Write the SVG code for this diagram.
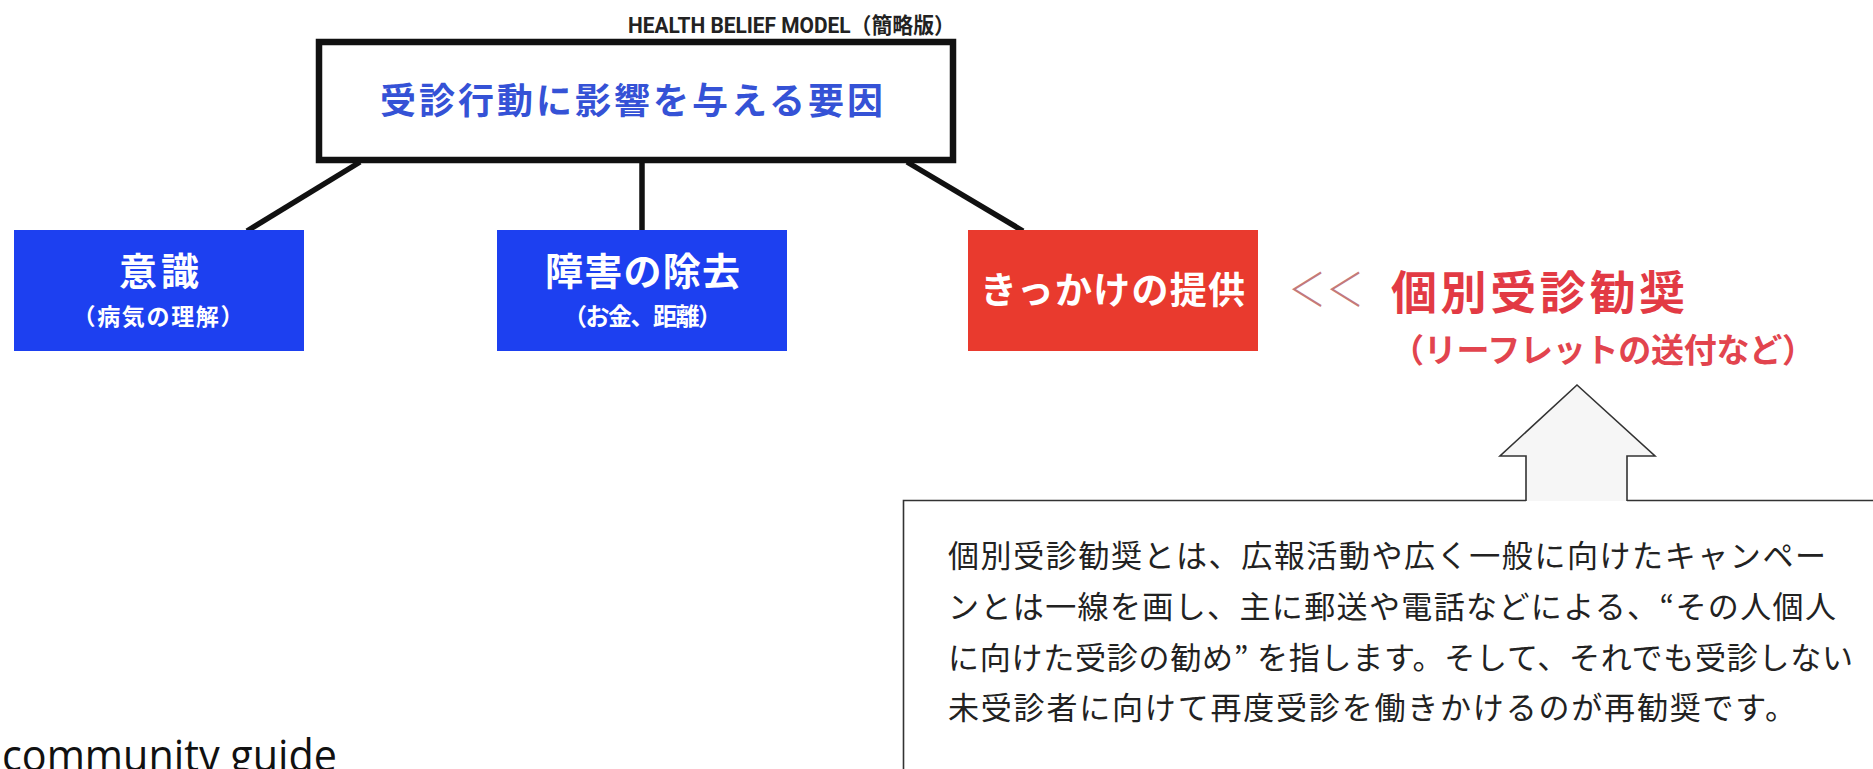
<svg xmlns="http://www.w3.org/2000/svg" width="1873" height="769" viewBox="0 0 1873 769">
  <style>
    .jp { font-family: "Noto Sans CJK JP", "Noto Sans", sans-serif; }
    .lbl { font-family: "Noto Sans CJK JP", "Noto Sans", sans-serif; font-weight: 700; fill: #ffffff; text-anchor: middle; }
    .body { font-family: "Noto Sans CJK JP", "Noto Sans", sans-serif; font-weight: 400; fill: #222222; font-size: 31px; }
    .conn { stroke: #111111; stroke-width: 5.5; fill: none; }
    .blue { fill: #1d40f0; }
    .red { fill: #e93a2e; }
  </style>
  <rect width="1873" height="769" fill="#ffffff"/>

  <g id="title">
    <text x="955" y="33" text-anchor="end" font-family="Roboto, 'Noto Sans CJK JP', sans-serif" font-weight="700" font-size="22" fill="#222222" textLength="327" lengthAdjust="spacingAndGlyphs">HEALTH BELIEF MODEL（簡略版）</text>
  </g>

  <g id="connectors">
    <line class="conn" x1="360" y1="162" x2="247" y2="231"/>
    <line class="conn" x1="642" y1="162" x2="642" y2="231"/>
    <line class="conn" x1="907" y1="162" x2="1023" y2="231"/>
  </g>

  <g id="node-root">
    <rect x="319" y="42" width="634" height="118" fill="#ffffff" stroke="#111111" stroke-width="6.5"/>
    <text class="jp" x="631.5" y="114" text-anchor="middle" font-size="36" font-weight="700" fill="#3552d6" textLength="503" lengthAdjust="spacing">受診行動に影響を与える要因</text>
  </g>

  <g id="node-ishiki">
    <rect class="blue" x="14" y="230" width="290" height="121"/>
    <text class="lbl" x="159" y="285" font-size="38" textLength="80" lengthAdjust="spacing">意識</text>
    <text class="lbl" x="158" y="325" font-size="23" textLength="171" lengthAdjust="spacing">（病気の理解）</text>
  </g>

  <g id="node-shogai">
    <rect class="blue" x="497" y="230" width="290" height="121"/>
    <text class="lbl" x="642.5" y="285" font-size="38" textLength="195" lengthAdjust="spacing">障害の除去</text>
    <text class="lbl" x="642.5" y="325" font-size="24" textLength="159" lengthAdjust="spacing">（お金、距離）</text>
  </g>

  <g id="node-kikkake">
    <rect class="red" x="968" y="230" width="290" height="121"/>
    <text class="lbl" x="1112.5" y="304" font-size="37" textLength="265" lengthAdjust="spacing">きっかけの提供</text>
  </g>

  <g id="node-kobetsu">
    <text class="jp" x="1288" y="306" font-size="46" font-weight="300" fill="#c47a7a" textLength="76" lengthAdjust="spacingAndGlyphs">＜＜</text>
    <text class="jp" x="1391" y="309" font-size="46" font-weight="700" fill="#e23a44" textLength="294" lengthAdjust="spacing">個別受診勧奨</text>
    <text class="jp" x="1391" y="362" font-size="33" font-weight="700" fill="#e2444e" textLength="424" lengthAdjust="spacing">（リーフレットの送付など）</text>
  </g>

  <g id="up-arrow">
    <polygon points="1577,385 1655,456 1627,456 1627,501 1526,501 1526,456 1500,456" fill="#f6f6f6" stroke="none"/>
    <polyline points="1526,501 1526,456 1500,456 1577,385 1655,456 1627,456 1627,501" fill="none" stroke="#333333" stroke-width="1.6"/>
  </g>

  <g id="node-description">
    <path d="M1526,500.5 H903.5 V775 M1627,500.5 H1880" fill="none" stroke="#333333" stroke-width="1.6"/>
    <text class="body" x="948" y="567" textLength="878" lengthAdjust="spacing">個別受診勧奨とは、広報活動や広く一般に向けたキャンペー</text>
    <text class="body" x="948" y="618" textLength="888" lengthAdjust="spacing">ンとは一線を画し、主に郵送や電話などによる、“その人個人</text>
    <text class="body" x="948" y="669" textLength="905" lengthAdjust="spacing">に向けた受診の勧め” を指します。そして、それでも受診しない</text>
    <text class="body" x="948" y="719" textLength="848" lengthAdjust="spacing">未受診者に向けて再度受診を働きかけるのが再勧奨です。</text>
  </g>

  <g id="footer">
    <text x="2" y="771" font-family="'Open Sans', 'Liberation Sans', sans-serif" font-size="44" fill="#111111" textLength="335" lengthAdjust="spacingAndGlyphs">community guide</text>
  </g>
</svg>
